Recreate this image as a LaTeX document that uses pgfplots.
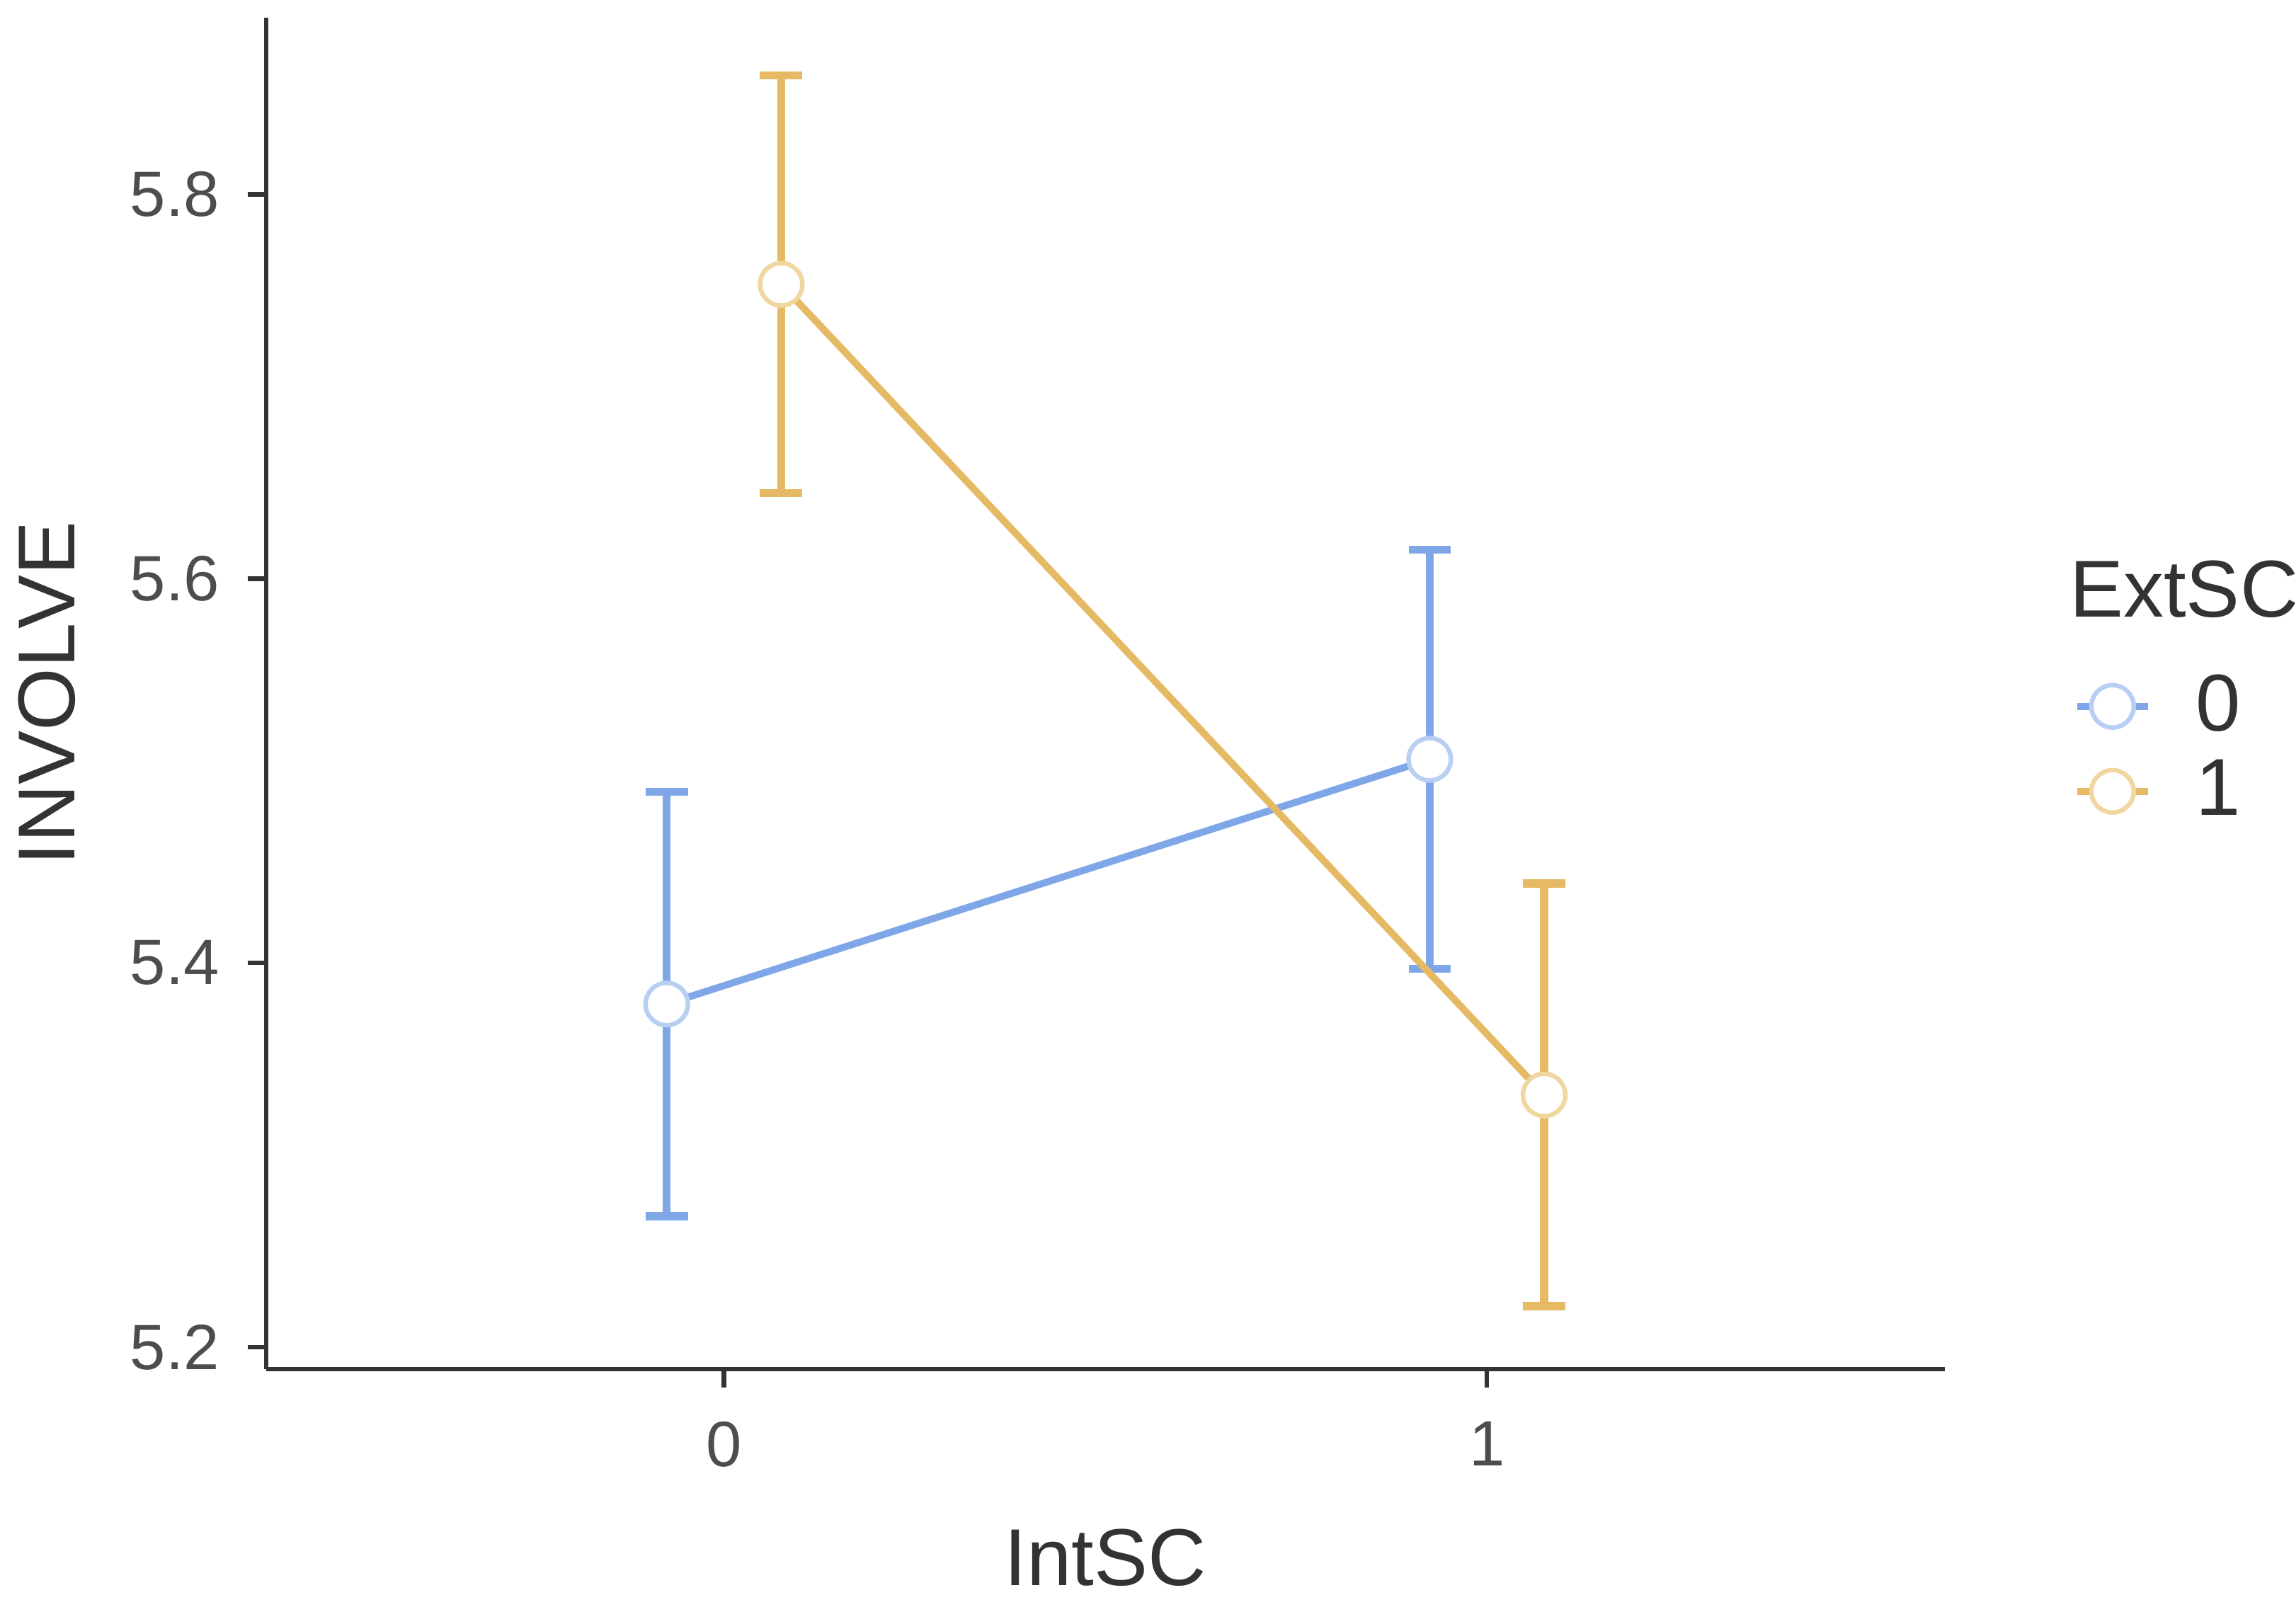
\documentclass[border=0pt]{standalone}
\usepackage{fontspec}
\setmainfont{Liberation Sans}
\usepackage{pgfplots}
\pgfplotsset{compat=1.18}
\definecolor{lineblue}{HTML}{7FA7E8}
\definecolor{markblue}{HTML}{B9CEF3}
\definecolor{lineorange}{HTML}{E6B964}
\definecolor{markorange}{HTML}{F0D6A0}
\definecolor{tickgray}{HTML}{4D4D4D}
\definecolor{axisgray}{HTML}{333333}

\begin{document}
\begin{tikzpicture}
\begin{axis}[
  at={(0,0)}, anchor=south west,
  scale only axis,
  width=11.698cm, height=9.419cm,
  xmin=-0.6, xmax=1.6,
  ymin=5.1886, ymax=5.892,
  xtick={0,1},
  ytick={5.2,5.4,5.6,5.8},
  yticklabel style={/pgf/number format/fixed, /pgf/number format/precision=1, /pgf/number format/fixed zerofill},
  /pgf/number format/assume math mode=true,
  axis lines=left,
  axis line style={draw=axisgray, line width=0.9pt, -},
  tick style={draw=axisgray, line width=0.9pt},
  tick align=outside,
  major tick length=0.13cm,
  ticklabel style={font=\fontsize{12.7}{15}\selectfont, text=tickgray, inner sep=0pt},
  yticklabel style={xshift=-0.19cm},
  xticklabel style={yshift=-0.23cm},
  xlabel={IntSC}, ylabel={INVOLVE},
  label style={font=\fontsize{16}{19}\selectfont, text=axisgray, inner sep=0pt},
  xlabel style={at={(axis description cs:0.5,-0.1603)}, anchor=base},
  ylabel style={at={(axis description cs:-0.113,0.5)}, anchor=south},
  clip=false,
  legend style={at={(1.0763,0.4591)}, anchor=west, draw=none, fill=none,
    font=\fontsize{16}{19}\selectfont, text=axisgray, inner sep=0pt,
    row sep=0.15cm, nodes={inner sep=0pt},
    /tikz/every odd column/.append style={column sep=0.31cm}},
  legend cell align=left,
  legend image code/.code={
    \draw[#1, mark=none] (0cm,0cm) -- (0.49cm,0cm);
    \draw[#1, only marks] plot coordinates {(0.245cm,0cm)};
  },
  error bars/y dir=both, error bars/y explicit,
  error bars/error mark=|,
]
\addplot[color=lineblue, line width=1.4pt,
  mark=*, mark size=4.2pt,
  mark options={fill=white, draw=markblue, line width=0.9pt},
  error bars/error bar style={line width=1.6pt, color=lineblue},
  error bars/error mark options={line width=1.6pt, mark size=4.2pt, color=lineblue}]
  coordinates {(-0.075,5.3786) +- (0,0.1105) (0.925,5.506) +- (0,0.109)};
\addlegendentry{0}
\addplot[color=lineorange, line width=1.4pt,
  mark=*, mark size=4.2pt,
  mark options={fill=white, draw=markorange, line width=0.9pt},
  error bars/error bar style={line width=1.6pt, color=lineorange},
  error bars/error mark options={line width=1.6pt, mark size=4.2pt, color=lineorange}]
  coordinates {(0.075,5.7532) +- (0,0.1087) (1.075,5.3313) +- (0,0.110)};
\addlegendentry{1}
\node[anchor=base west, inner sep=0pt, font=\fontsize{16}{19}\selectfont, text=axisgray]
  at (rel axis cs:1.0738,0.5563) {ExtSC};
\end{axis}
\pgfresetboundingbox
\path[use as bounding box] (-1.855cm,-1.658cm) rectangle (14.146cm,9.542cm);
\end{tikzpicture}
\end{document}
